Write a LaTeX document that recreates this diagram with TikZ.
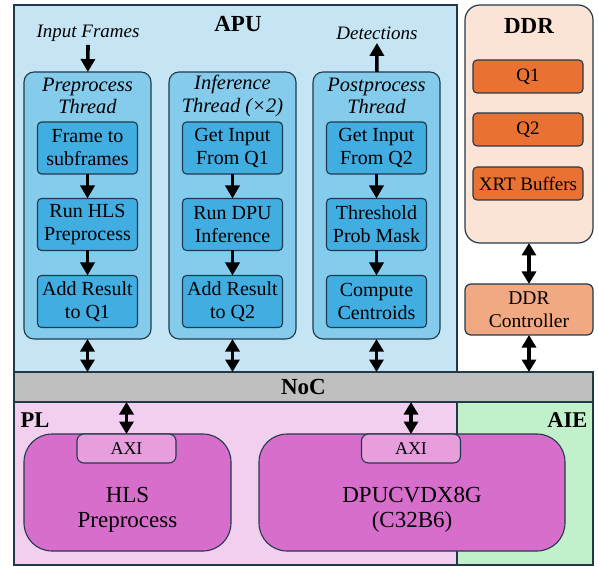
\documentclass[tikz,border=0pt]{standalone}
\usepackage{fontspec}
\setmainfont{Liberation Serif}
\usepackage{xcolor}
\usetikzlibrary{arrows.meta, positioning}
\definecolor{edgedark}{HTML}{203A4C}
\definecolor{apubg}{HTML}{C5E5F5}
\definecolor{threadbg}{HTML}{85CBEB}
\definecolor{stagebg}{HTML}{42ADE0}
\definecolor{ddrbg}{HTML}{FBE4D6}
\definecolor{queuebg}{HTML}{E97132}
\definecolor{ctrlbg}{HTML}{F1A983}
\definecolor{nocgray}{HTML}{BFBFBF}
\definecolor{plpink}{HTML}{F2CFEE}
\definecolor{aiegreen}{HTML}{C2F0CB}
\definecolor{ipmagenta}{HTML}{D86ECC}
\definecolor{axipink}{HTML}{E69EDD}

\begin{document}
\begin{tikzpicture}[x=1pt, y=-1pt,
    region/.style={draw=edgedark, line width=1.2pt, outer sep=0pt, inner sep=0pt},
    thread/.style={draw=edgedark, line width=1.1pt, fill=threadbg, rounded corners=10pt,
        minimum width=127pt, minimum height=267pt, outer sep=0pt},
    stagebox/.style={draw=edgedark, line width=1.1pt, fill=stagebg, rounded corners=4pt,
        minimum width=100pt, minimum height=52pt, align=center, inner sep=0pt, outer sep=0pt,
        font=\fontsize{20}{23}\selectfont},
    queue/.style={draw=edgedark, line width=1.1pt, fill=queuebg, rounded corners=4pt,
        minimum width=110pt, minimum height=33pt, outer sep=0pt,
        font=\fontsize{19}{22}\selectfont},
    ipcore/.style={draw=edgedark, line width=1.1pt, fill=ipmagenta, rounded corners=28pt,
        minimum height=117pt, outer sep=0pt},
    axitab/.style={draw=edgedark, line width=1.1pt, fill=axipink, rounded corners=7pt,
        minimum width=99pt, minimum height=29pt, outer sep=0pt,
        font=\fontsize{18}{20}\selectfont},
    ttl/.style={font=\fontsize{20.5}{22.5}\selectfont\itshape, align=center, inner sep=0pt},
    big/.style={font=\fontsize{23}{25.5}\selectfont, align=center, inner sep=0pt},
    flow/.style={line width=3.6pt, -{Triangle[width=14pt,length=13pt]}},
    bus/.style={line width=3.6pt, {Triangle[width=14pt,length=12.5pt]}-{Triangle[width=14pt,length=12.5pt]}}]

    \useasboundingbox (0,0) rectangle (598,567);

    % regions
    \node[region, fill=apubg, minimum width=443pt, minimum height=367pt] (apu) at (235.5,188.5) {};
    \node[region, fill=plpink, minimum width=443pt, minimum height=163pt] (pl) at (235.5,483.5) {};
    \node[region, fill=aiegreen, minimum width=136pt, minimum height=163pt] (aie) at (525,483.5) {};
    \node[region, fill=nocgray, minimum width=579pt, minimum height=30pt,
        font=\fontsize{23}{25}\selectfont\bfseries] (noc) at (303.5,387) {NoC};

    \node[font=\fontsize{23}{26}\selectfont\bfseries] (apuT) at (238,24) {APU};
    \node[font=\fontsize{22.5}{25}\selectfont\bfseries, anchor=west] (plT) at (17,420) {PL};
    \node[font=\fontsize{22.5}{25}\selectfont\bfseries, anchor=east] (aieT) at (591,420) {AIE};

    % threads
    \node[thread] (pre) at (87.5,205.5) {};
    \node[thread] (inf) at (232.5,205.5) {};
    \node[thread] (post) at (376.5,205.5) {};
    \node[ttl] (preT) at (87.5,96) {Preprocess\\Thread};
    \node[ttl] (infT) at (232.5,96) {Inference\\Thread (×2)};
    \node[ttl] (postT) at (376.5,96) {Postprocess\\Thread};

    \node[stagebox] (p1) at (87.5,148) {Frame to\\subframes};
    \node[stagebox] (p2) at (87.5,224.5) {Run HLS\\Preprocess};
    \node[stagebox] (p3) at (87.5,301.5) {Add Result\\to Q1};
    \node[stagebox] (i1) at (232.5,148) {Get Input\\From Q1};
    \node[stagebox] (i2) at (232.5,224.5) {Run DPU\\Inference};
    \node[stagebox] (i3) at (232.5,301.5) {Add Result\\to Q2};
    \node[stagebox] (q1) at (376.5,148) {Get Input\\From Q2};
    \node[stagebox] (q2) at (376.5,224.5) {Threshold\\Prob Mask};
    \node[stagebox] (q3) at (376.5,301.5) {Compute\\Centroids};

    \draw[flow] (p1) -- (p2);
    \draw[flow] (p2) -- (p3);
    \draw[flow] (i1) -- (i2);
    \draw[flow] (i2) -- (i3);
    \draw[flow] (q1) -- (q2);
    \draw[flow] (q2) -- (q3);

    \node[font=\fontsize{19}{22}\selectfont\itshape] (inFrames) at (88,33) {Input Frames};
    \node[font=\fontsize{19}{22}\selectfont\itshape] (dets) at (377,33) {Detections};
    \draw[flow] (inFrames) -- (pre);
    \draw[flow] (post) -- (dets);

    % DDR side
    \node[region, fill=ddrbg, rounded corners=15pt, minimum width=128pt, minimum height=238pt] (ddr) at (529,124) {};
    \node[font=\fontsize{23}{26}\selectfont\bfseries] (ddrT) at (529,26) {DDR};
    \node[queue] (dq1) at (528,76.5) {Q1};
    \node[queue] (dq2) at (528,129.5) {Q2};
    \node[queue] (xrt) at (528,183.5) {XRT Buffers};
    \node[region, fill=ctrlbg, rounded corners=6pt, minimum width=128pt, minimum height=51pt,
        align=center, font=\fontsize{19.5}{23}\selectfont] (ctrl) at (529,309.5) {DDR\\Controller};

    % NoC links
    \draw[bus] (pre.south) -- (pre.south |- noc.north);
    \draw[bus] (inf.south) -- (inf.south |- noc.north);
    \draw[bus] (post.south) -- (post.south |- noc.north);
    \draw[bus] (ddr.south) -- (ctrl.north);
    \draw[bus] (ctrl.south) -- (ctrl.south |- noc.north);

    % PL cores
    \node[ipcore, minimum width=207pt] (hls) at (127.5,492.5) {};
    \node[axitab] (axiA) at (126.5,448.5) {AXI};
    \node[big] (hlsT) at (127.5,510) {HLS\\Preprocess};
    \node[ipcore, minimum width=306pt] (dpu) at (412,492.5) {};
    \node[axitab] (axiB) at (411,448.5) {AXI};
    \node[big] (dpuT) at (412,510) {DPUCVDX8G\\(C32B6)};

    \draw[bus] (axiA.north |- noc.south) -- (axiA.north);
    \draw[bus] (axiB.north |- noc.south) -- (axiB.north);
\end{tikzpicture}
\end{document}
